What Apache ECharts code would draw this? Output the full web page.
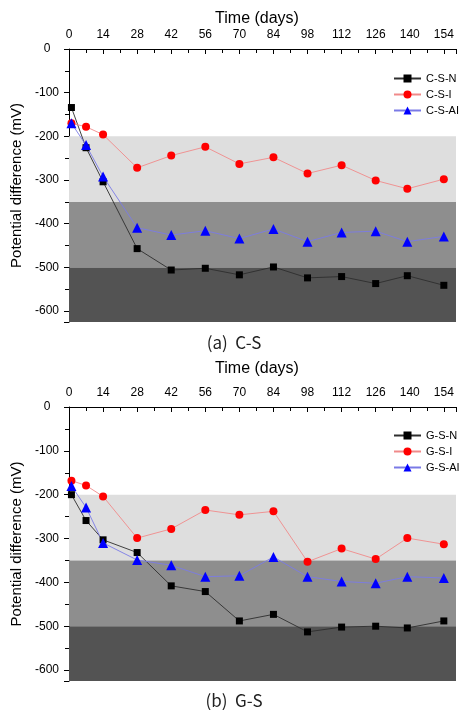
<!DOCTYPE html>
<html>
<head>
<meta charset="utf-8">
<script src="https://cdn.jsdelivr.net/npm/echarts@6/dist/echarts.min.js"></script>
<style>
html,body{margin:0;padding:0;background:#fff;}
#c{width:459px;height:710px;}
</style>
</head>
<body>
<div id="c"></div>
<script>
// ---- data ----
const days = [1, 7, 14, 28, 42, 56, 70, 84, 98, 112, 126, 139, 154];
const csN  = [-134, -226, -304, -457, -506, -502, -517, -499, -524, -521, -537, -519, -541];
const csI  = [-170, -178, -196, -272, -244, -224, -263, -248, -285, -266, -301, -320, -298];
const csAI = [-170, -220, -292, -409, -426, -416, -434, -412, -441, -420, -417, -441, -429];
const gsN  = [-200, -259, -303, -332, -408, -421, -488, -473, -513, -502, -500, -504, -488];
const gsI  = [-168, -179, -204, -299, -278, -235, -246, -238, -353, -323, -347, -299, -313];
const gsAI = [-180, -229, -310, -349, -361, -387, -385, -342, -387, -398, -402, -387, -390];
const bandEdges = [-200, -350, -500, -625];
const xTickLabels = [0, 14, 28, 42, 56, 70, 84, 98, 112, 126, 140, 154];
const yTickLabels = [0, -100, -200, -300, -400, -500, -600];
const names1 = ['C-S-N', 'C-S-I', 'C-S-AI'];
const names2 = ['G-S-N', 'G-S-I', 'G-S-AI'];
const captions = ['(a)  C-S', '(b)  G-S'];

// ---- build ----
const zip = (xs, ys) => xs.map((x, i) => [x, ys[i]]);
const bandColors = ['#dedede', '#8e8e8e', '#535353'];
const bands = bandColors.map((c, i) => [
  { yAxis: bandEdges[i], itemStyle: { color: c } },
  { yAxis: bandEdges[i + 1] }
]);
const font = 'Liberation Sans, Arial, sans-serif';

function xAx(gi) {
  return {
    type: 'value', gridIndex: gi, position: 'top', min: 0, max: 159, interval: 14,
    axisLine: { show: true, onZero: false, lineStyle: { color: '#000', width: 1 } },
    axisTick: { show: true, inside: true, length: 5, lineStyle: { color: '#000' } },
    minorTick: { show: true, splitNumber: 2, length: 4, lineStyle: { color: '#000' } },
    splitLine: { show: false },
    axisLabel: {
      margin: 8, fontSize: 12, color: '#000', fontFamily: font,
      formatter: v => xTickLabels.indexOf(v) >= 0 ? String(v) : ''
    }
  };
}
function yAx(gi) {
  return {
    type: 'value', gridIndex: gi, min: -625, max: 0, splitNumber: 6,
    name: 'Potential difference (mV)', nameLocation: 'middle', nameGap: 44,
    nameTextStyle: { fontSize: 15, color: '#000', fontFamily: font },
    axisLine: { show: true, onZero: false, lineStyle: { color: '#000', width: 1 } },
    axisTick: { show: true, inside: false, length: 5, lineStyle: { color: '#000' } },
    minorTick: { show: true, splitNumber: 2, length: 4, lineStyle: { color: '#000' } },
    splitLine: { show: false },
    axisLabel: {
      margin: 22, align: 'center', fontSize: 12, color: '#000', fontFamily: font,
      formatter: v => yTickLabels.indexOf(v) >= 0 ? String(v) : ''
    }
  };
}
const styles = [
  { symbol: 'rect', symbolSize: 7, color: '#000', line: '#2e2e2e' },
  { symbol: 'circle', symbolSize: 8, color: '#ff0000', line: '#f08a8a' },
  { symbol: 'triangle', symbolSize: 10, color: '#0000ff', line: '#7a7ae6' }
];
function ser(name, ys, st, gi, withBands) {
  const s = {
    name, type: 'line', xAxisIndex: gi, yAxisIndex: gi, data: zip(days, ys),
    symbol: st.symbol, symbolSize: st.symbolSize, showAllSymbol: true,
    itemStyle: { color: st.color },
    lineStyle: { color: st.line, width: 0.9 },
    emphasis: { disabled: true }, animation: false, z: 3
  };
  if (withBands) s.markArea = { silent: true, data: bands };
  return s;
}
const legendBase = {
  orient: 'vertical', left: 388, itemWidth: 27, itemHeight: 10, itemGap: 5,
  textStyle: { fontSize: 11, color: '#000', fontFamily: font }
};
const titleStyle = { fontSize: 16, fontWeight: 'normal', color: '#000', fontFamily: font };
const capStyle = { fontSize: 17, fontWeight: 'normal', color: '#222', fontFamily: 'Noto Sans CJK KR, sans-serif' };

const option = {
  animation: false,
  backgroundColor: '#fff',
  title: [
    { text: 'Time (days)', left: 252, top: 6, textAlign: 'center', textStyle: titleStyle },
    { text: 'Time (days)', left: 252, top: 356, textAlign: 'center', textStyle: titleStyle },
    { text: captions[0], left: 229, top: 329, textAlign: 'center', textStyle: capStyle },
    { text: captions[1], left: 229, top: 687, textAlign: 'center', textStyle: capStyle }
  ],
  grid: [
    { left: 69, top: 49, right: 0, height: 273 },
    { left: 69, top: 407, right: 0, height: 274 }
  ],
  xAxis: [xAx(0), xAx(1)],
  yAxis: [yAx(0), yAx(1)],
  legend: [
    Object.assign({}, legendBase, { top: 68, data: names1 }),
    Object.assign({}, legendBase, { top: 425, data: names2 })
  ],
  series: [
    ser(names1[0], csN, styles[0], 0, true),
    ser(names1[1], csI, styles[1], 0, false),
    ser(names1[2], csAI, styles[2], 0, false),
    ser(names2[0], gsN, styles[0], 1, true),
    ser(names2[1], gsI, styles[1], 1, false),
    ser(names2[2], gsAI, styles[2], 1, false)
  ]
};
const chart = echarts.init(document.getElementById('c'), null, { renderer: 'canvas' });
chart.setOption(option);
</script>
</body>
</html>
